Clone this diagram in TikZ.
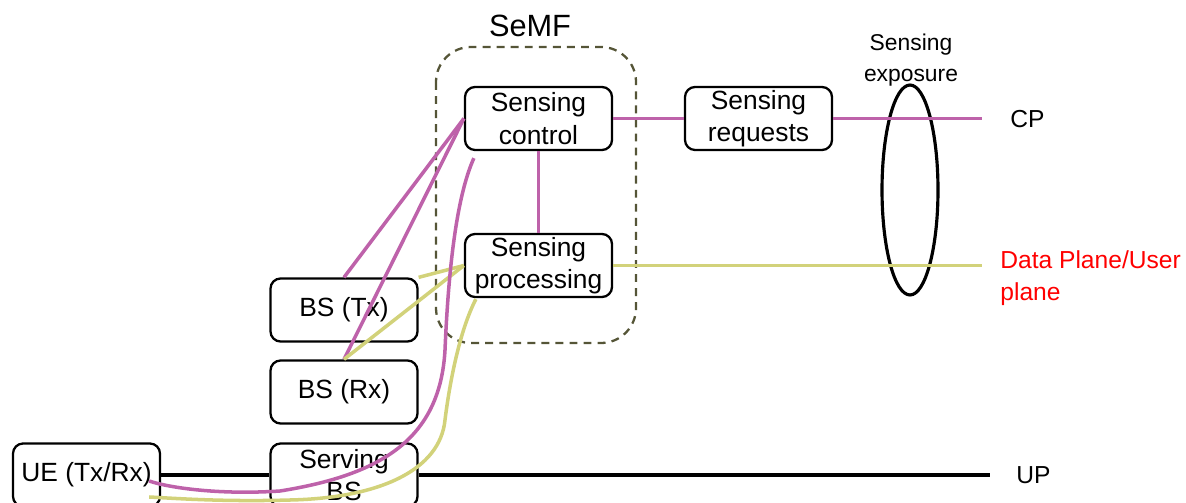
\documentclass[tikz,border=0pt]{standalone}
\usepackage{fontspec}
\setmainfont{Liberation Sans}
\usetikzlibrary{shapes.geometric,calc}
\definecolor{cpcol}{RGB}{190,98,170}
\definecolor{upcol}{RGB}{210,210,122}
\definecolor{semfcol}{RGB}{85,85,55}
\definecolor{redtxt}{RGB}{255,0,0}
\tikzset{
  fbox/.style={draw=black, line width=1.3pt, rounded corners=0.2cm, minimum width=2.94cm, minimum height=1.26cm, align=center, inner sep=0pt, font=\fontsize{15}{18.5}\selectfont},
  cpline/.style={draw=cpcol, line width=2pt},
  upline/.style={draw=upcol, line width=2pt},
  bkline/.style={draw=black, line width=1.8pt},
  lbl/.style={font=\fontsize{14}{18}\selectfont, align=center, inner sep=0pt}
}
\begin{document}
\begin{tikzpicture}[x=0.02cm, y=-0.02cm]
\useasboundingbox (0,0) rectangle (1186,503);
\clip (0,0) rectangle (1186,503);
% SeMF container
\draw[semfcol, line width=1.3pt, dash pattern=on 4.5pt off 3.5pt, rounded corners=0.7cm] (436,47) rectangle (636,343);
\node[font=\fontsize{17.5}{20}\selectfont, inner sep=0pt] (semf) at (530,26) {SeMF};
% boxes
\node[fbox] (ctrl) at (538.5,118.5) {Sensing\\control};
\node[fbox] (proc) at (538.5,265.5) {Sensing\\processing};
\node[fbox] (req) at (758.5,118.5) {Sensing\\requests};
\node[fbox] (bstx) at (344,310) {BS (Tx)};
\node[fbox] (bsrx) at (344,392) {BS (Rx)};
\node[fbox] (ue) at (86.5,475) {UE (Tx/Rx)};
\node[fbox] (sbs) at (344,475) {Serving\\BS};
% exposure ellipse
\node[ellipse, draw=black, line width=1.8pt, minimum width=1.12cm, minimum height=4.2cm, inner sep=0pt] (expo) at (910,190) {};
\node[lbl, font=\fontsize{13}{18}\selectfont] (expolbl) at (911,60) {Sensing\\exposure};
% free ends
\coordinate (cpend) at (982,118.5);
\coordinate (dpend) at (982,265.5);
\coordinate (upend) at (990,475);
% labels
\node[lbl, anchor=west] (cplbl) at (1010,119) {CP};
\node[lbl, anchor=west, align=left, text=redtxt] (dplbl) at (1000,278) {Data Plane/User\\plane};
\node[lbl, anchor=west] (uplbl) at (1016,475) {UP};
% control plane lines
\draw[cpline] (ctrl.east) -- (req.west);
\draw[cpline] (req.east) -- (cpend);
\draw[cpline] (ctrl.south) -- (proc.north);
\draw[cpline] (bstx.north) -- (ctrl.west);
\draw[cpline] (bsrx.north) -- (ctrl.west);
% user plane lines
\draw[upline] (proc.east) -- (dpend);
\draw[upline] (bstx.north east) -- (proc.west);
\draw[upline] (bsrx.north) -- (proc.west);
% black UP lines
\draw[bkline] (ue.east) -- (sbs.west);
\draw[bkline] (sbs.east) -- (upend);
% curves from UE
\coordinate (mstart) at ($(ctrl.south west)+(10,7)$);
\coordinate (mend) at ($(ue.east)+(-12,6)$);
\draw[cpline] (mstart) .. controls (455,200) and (448,280) .. (445,350)
  .. controls (440,440) and (380,475) .. (280,491)
  .. controls (220,495) and (170,488) .. (mend);
\coordinate (ystart) at ($(proc.south west)+(12,1)$);
\coordinate (yend) at ($(ue.east)+(-12,22)$);
\draw[upline] (ystart) .. controls (460,330) and (450,380) .. (445,420)
  .. controls (440,470) and (380,498) .. (290,500)
  .. controls (220,502) and (170,498) .. (yend);
\end{tikzpicture}
\end{document}
